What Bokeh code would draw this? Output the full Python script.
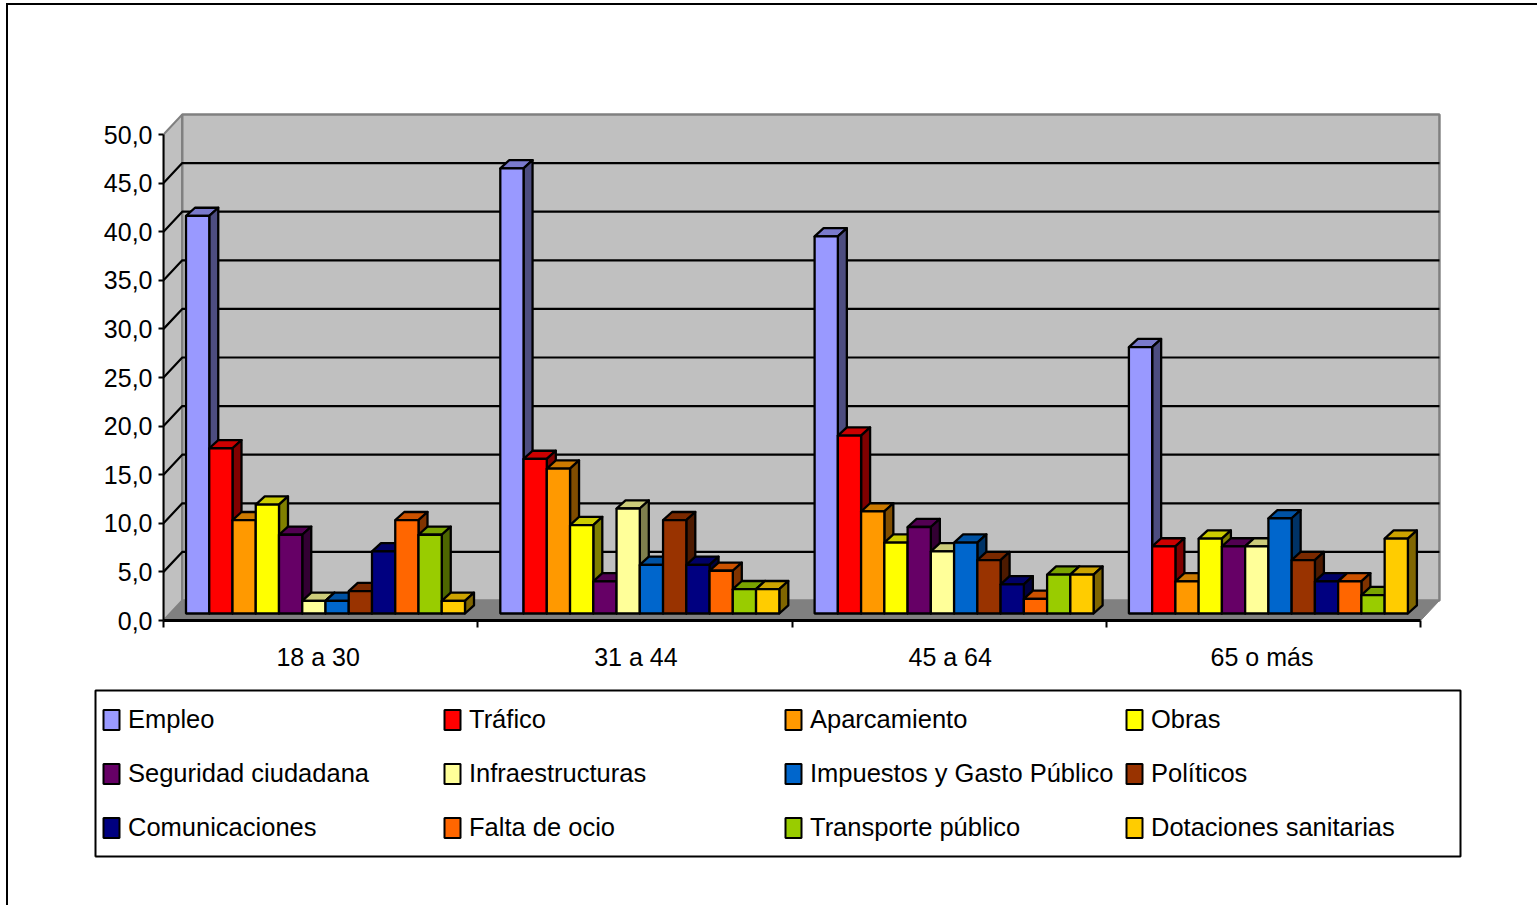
from bokeh.plotting import figure
from bokeh.embed import file_html
from bokeh.resources import INLINE
from bokeh.layouts import column
from bokeh.models import Range1d, LinearAxis, FixedTicker, Legend, LegendItem
import numpy as np

FONT = "Liberation Sans"

groups = ["18 a 30", "31 a 44", "45 a 64", "65 o más"]
group_label_pos = [0.492, 1.503, 2.503, 3.495]
series = ["Empleo", "Tráfico", "Aparcamiento", "Obras", "Seguridad ciudadana", "Infraestructuras",
          "Impuestos y Gasto Público", "Políticos", "Comunicaciones", "Falta de ocio",
          "Transporte público", "Dotaciones sanitarias"]
empleo = [40.9, 45.8, 38.8, 27.4]
trafico = [17.0, 15.9, 18.3, 6.9]
aparcamiento = [9.6, 14.9, 10.5, 3.3]
obras = [11.2, 9.1, 7.3, 7.7]
seguridad = [8.1, 3.3, 8.9, 6.9]
infraestructuras = [1.3, 10.8, 6.4, 6.9]
impuestos = [1.3, 5.0, 7.3, 9.8]
politicos = [2.3, 9.6, 5.5, 5.5]
comunicaciones = [6.4, 5.0, 3.0, 3.3]
ocio = [9.6, 4.4, 1.5, 3.3]
transporte = [8.1, 2.5, 4.0, 1.9]
dotaciones = [1.3, 2.5, 4.0, 7.7]
values = [empleo, trafico, aparcamiento, obras, seguridad, infraestructuras, impuestos, politicos,
          comunicaciones, ocio, transporte, dotaciones]
front = ["#9999FF", "#FF0000", "#FF9900", "#FFFF00", "#660066", "#FFFF99", "#0066CC", "#993300",
         "#000080", "#FF6600", "#99CC00", "#FFCC00"]
top_c = ["#7A7ACC", "#CC0000", "#CC7A00", "#CCCC00", "#520052", "#CCCC7A", "#0052A3", "#7A2900",
         "#000066", "#CC5200", "#7AA300", "#CCA300"]
side_c = ["#4D4D80", "#800000", "#804D00", "#808000", "#330033", "#80804D", "#003366", "#4D1A00",
          "#000040", "#803300", "#4D6600", "#806600"]
y_ticks = [0, 5, 10, 15, 20, 25, 30, 35, 40, 45, 50]
y_labels = ["0,0", "5,0", "10,0", "15,0", "20,0", "25,0", "30,0", "35,0", "40,0", "45,0", "50,0"]

PXX, PXY = 314.3, 9.72
W_DX, W_DY = 18.75 / PXX, 20.0 / PXY
B_DX, B_DY = 9.0 / PXX, 8.2 / PXY
BW = 23.25 / PXX
B0X, B0Y = 22.5 / PXX, 7.0 / PXY
OX, OY = 8, 5   # page position of the drawing, inside the outer border

p = figure(width=1537 - OX, height=680 - OY, output_backend="svg", toolbar_location=None,
           x_range=Range1d(0, (1445 - 163) / PXX), y_range=Range1d(0, (620 - 100) / PXY),
           x_axis_location=None, y_axis_location=None, frame_align=False,
           min_border_left=163 - OX, min_border_right=92, min_border_top=100 - OY, min_border_bottom=60,
           outline_line_color=None, background_fill_color="white", border_fill_color="white")
p.grid.visible = False

ytop = y_ticks[-1]
p.patch([0, W_DX, W_DX, 0], [0, W_DY, ytop + W_DY, ytop], fill_color="#C0C0C0", line_color="#808080", line_width=2)
p.patch([W_DX, 4 + W_DX, 4 + W_DX, W_DX], [W_DY, W_DY, ytop + W_DY, ytop + W_DY],
        fill_color="#C0C0C0", line_color="#808080", line_width=2.5)
p.patch([0, 4, 4 + W_DX, W_DX], [0, 0, W_DY, W_DY], fill_color="#808080", line_color="#808080", line_width=1)
grid = y_ticks[1:-1]
p.multi_line([[0, W_DX, 4 + W_DX] for _ in grid], [[g, g + W_DY, g + W_DY] for g in grid],
             line_color="black", line_width=2.2)

for s, vals in enumerate(values):
    left = np.arange(4) * 1.0 + B0X + s * BW
    v = np.array(vals) + B0Y
    right = left + BW
    p.patches([[l, r, r + B_DX, l + B_DX] for l, r in zip(left, right)],
              [[t, t, t + B_DY, t + B_DY] for t in v],
              fill_color=top_c[s], line_color="black", line_width=2.3, line_join="round")
    p.patches([[r, r + B_DX, r + B_DX, r] for r in right],
              [[B0Y, B0Y + B_DY, t + B_DY, t] for t in v],
              fill_color=side_c[s], line_color="black", line_width=2.3, line_join="round")
    p.vbar(x=left + BW / 2, width=BW, bottom=B0Y, top=v,
           fill_color=front[s], line_color="black", line_width=2.3)

ya = LinearAxis(ticker=FixedTicker(ticks=y_ticks), bounds=(0, 50),
                major_label_overrides=dict(zip(y_ticks, y_labels)),
                major_label_text_font=FONT, major_label_text_font_size="25px",
                major_label_text_color="black", major_label_standoff=6,
                major_tick_in=0, major_tick_out=5, major_tick_line_width=2, major_tick_line_color="black",
                minor_tick_line_color=None, axis_line_color="black", axis_line_width=2)
p.add_layout(ya, "left")
xa = LinearAxis(ticker=FixedTicker(ticks=group_label_pos, minor_ticks=[0, 1, 2, 3, 4]), bounds=(0, 4),
                major_label_overrides=dict(zip(group_label_pos, groups)),
                major_label_text_font=FONT, major_label_text_font_size="25px",
                major_label_text_color="black", major_label_standoff=15,
                major_tick_in=0, major_tick_out=0, minor_tick_in=0, minor_tick_out=7,
                minor_tick_line_width=2, minor_tick_line_color="black",
                axis_line_color="black", axis_line_width=3)
p.add_layout(xa, "below")

# legend panel: its frame is the black legend box
lf = figure(width=1537 - OX, height=900 - 675, output_backend="svg", toolbar_location=None,
            x_range=Range1d(0, 1), y_range=Range1d(0, 1), x_axis_location=None, y_axis_location=None,
            frame_align=False,
            min_border_left=95 - OX, min_border_right=1537 - 1460, min_border_top=10, min_border_bottom=49,
            outline_line_color="black", outline_line_width=2, background_fill_color="white",
            border_fill_color="white")
lf.grid.visible = False
items = []
for s, name in enumerate(series):
    r = lf.vbar(x=[-1], width=0.1, bottom=[-2], top=[-1], fill_color=front[s], line_color="black", line_width=2)
    items.append(LegendItem(label=name, renderers=[r]))
col_x = [101 - 95, 442 - 95, 783 - 95, 1124 - 95]
for c in range(4):
    lg = Legend(items=items[c::4], location=(col_x[c], 14), orientation="vertical",
                glyph_width=20, glyph_height=25, label_standoff=7, spacing=25, padding=0, margin=0,
                label_text_font=FONT, label_text_font_size="25.5px", label_text_color="black",
                background_fill_alpha=0, border_line_color=None, label_height=20)
    lf.add_layout(lg, "center")

page = column(p, lf, spacing=0,
              styles={"border-left": "2px solid black", "border-top": "2px solid black",
                      "margin": f"{OY - 2}px 0 0 {OX - 2}px"})
open("out.html", "w").write(file_html(page, INLINE))
